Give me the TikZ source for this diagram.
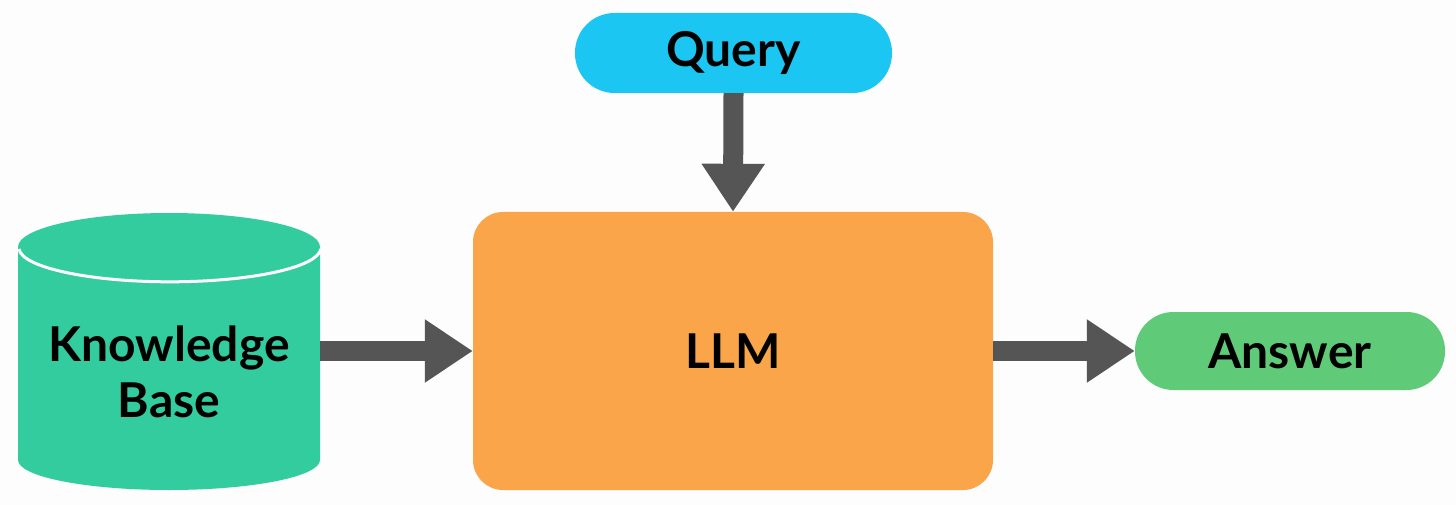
\documentclass[tikz,border=0pt]{standalone}
\usepackage{fontspec}
\setmainfont{Lato}
\usetikzlibrary{arrows.meta}
\definecolor{bgcol}{HTML}{FDFDFD}
\definecolor{kbcol}{HTML}{33CC9E}
\definecolor{llmcol}{HTML}{FAA54A}
\definecolor{querycol}{HTML}{1CC6F2}
\definecolor{anscol}{HTML}{5FCB78}
\definecolor{arrcol}{HTML}{555555}
\tikzset{
  lbl/.style={font=\bfseries\fontsize{48}{56}\selectfont, text=black, align=center},
  pill/.style={lbl, rectangle, inner sep=0pt},
  blockarrow/.style={draw=arrcol, line width=20pt, -{Triangle[width=60pt,length=48pt]}, arrcol},
}
\begin{document}
\begin{tikzpicture}[x=1pt,y=-1pt]
\fill[bgcol] (0,0) rectangle (1456,505);
\useasboundingbox (0,0) rectangle (1456,505);
% cylinder
\fill[kbcol] (18,247) -- (18,460) arc[start angle=180,end angle=0,x radius=151,y radius=30]
  -- (320,247) arc[start angle=0,end angle=-180,x radius=151,y radius=34] -- cycle;
\draw[white, line width=3pt] (19,249) arc[start angle=178,end angle=2,x radius=151,y radius=34];
\node[lbl, minimum width=302pt, inner sep=0pt] (kb) at (169,372) {Knowledge\\Base};
% LLM
\node[lbl, fill=llmcol, rounded corners=30pt, minimum width=520pt, minimum height=278pt, inner sep=0pt] (llm) at (733,351) {LLM};
% Query
\node[pill, fill=querycol, rounded corners=39.5pt, minimum width=317pt, minimum height=80pt] (query) at (733.5,53) {Query};
% Answer
\node[pill, fill=anscol, rounded corners=38.5pt, minimum width=310pt, minimum height=78pt] (answer) at (1290,351) {Answer};
% arrows
\draw[blockarrow] (query.south) -- (llm.north);
\draw[blockarrow] (kb.east |- llm.west) -- (llm.west);
\draw[blockarrow] (llm.east) -- (answer.west);
\end{tikzpicture}
\end{document}
